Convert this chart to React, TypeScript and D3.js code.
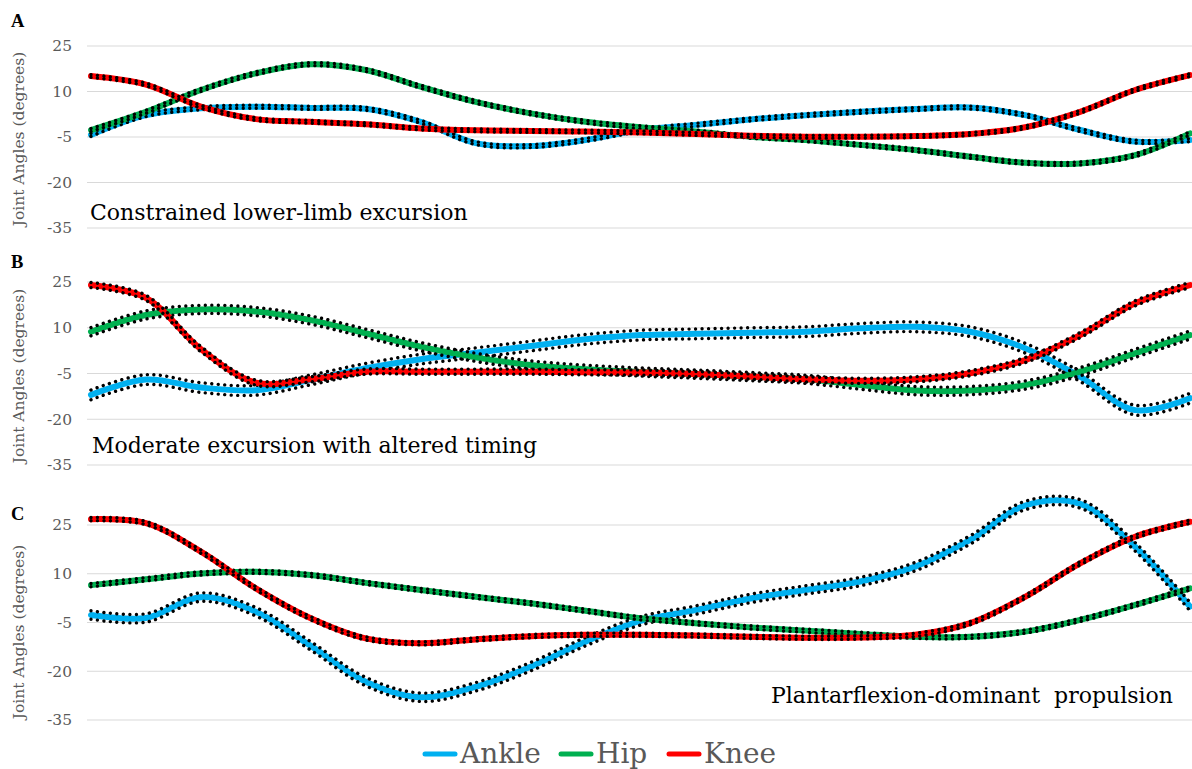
import React from "react";
import * as d3 from "d3";

// gait cycle (%), sampled every 5%
const gaitPct = [0, 5, 10, 15, 20, 25, 30, 35, 40, 45, 50, 55, 60, 65, 70, 75, 80, 85, 90, 95, 100];
const yTicks = [25, 10, -5, -20, -35];
const seriesNames = ["Ankle", "Hip", "Knee"];
const seriesColors = ["#00B0F0", "#00B050", "#FF0000"];

// Panel A - constrained
const ankleA = [-4.3, 2.2, 4.5, 5, 4.6, 4.3, 0, -7, -8, -6, -2.7, -1, 0.8, 2.2, 3.3, 4.2, 4.7, 2.2, -2.7, -6.5, -6];
const hipA = [-2.7, 3.3, 10.5, 16, 19, 17.1, 11.6, 6.6, 2.8, 0, -1.8, -3.2, -4.9, -6, -7.6, -9.3, -11.5, -13.5, -13.7, -11, -3.8];
const kneeA = [15.1, 12.3, 5, 0.9, 0, -0.8, -2.2, -2.8, -3, -3.2, -3.5, -4, -4.6, -4.9, -4.9, -4.7, -4, -1.8, 3.3, 10.5, 15.4];
const sdA = [0.5, 0.5, 0.45];

// Panel B - moderate, altered timing
const ankleB = [-12, -7, -9.6, -10.5, -7.1, -3.3, -0.3, 1.8, 4, 6.2, 7.6, 8, 8.4, 8.7, 9.8, 10.3, 8.7, 3.3, -6, -17, -13.1];
const hipB = [8.7, 14.2, 16, 15.3, 12.5, 8.2, 3.8, 0.3, -2.2, -3.6, -4.5, -5.2, -6, -6.9, -8.8, -10.6, -10.6, -8.8, -4.4, 1.6, 7.6];
const kneeB = [24, 19.8, 3, -8, -6.9, -4.4, -4.4, -4.4, -4.4, -4.6, -4.7, -5.2, -6, -6.9, -7.4, -6.9, -4.9, -0.6, 7.6, 18, 24];
const sdB = [1.6, 1.35, 0.85];

// Panel C - plantarflexion dominant
const ankleC = [-2.7, -3.6, 2.8, -1.7, -12.2, -23.2, -28, -24.8, -18.6, -10.9, -4.5, -1.2, 2.4, 5, 7.6, 12.2, 20.4, 31, 31.5, 18.3, -0.1];
const hipC = [6.5, 8.3, 10.1, 10.6, 9.6, 7.2, 5, 2.9, 0.9, -1.4, -3.7, -5.2, -6.5, -7.5, -8.5, -9.4, -9.4, -7.8, -4.2, 0.4, 5.5];
const kneeC = [26.8, 25.6, 16.8, 5.5, -3.7, -9.9, -11.4, -10.2, -9.2, -8.8, -8.8, -9, -9.4, -9.7, -9.6, -8.8, -5.2, 2.9, 13.2, 21.4, 26];
const sdC = [1.3, 0.5, 0.5];

const W = 1192, H = 769;
const FONT = "'DejaVu Serif', Georgia, serif";
const GRAY = "#595959";

const panels = [
  { letter: "A", series: [ankleA, hipA, kneeA], sd: sdA, note: "Constrained lower-limb excursion",
    top: 46, bottom: 228, letterY: 27, titleY: 139, noteX: 90, noteY: 220, anchor: "start" },
  { letter: "B", series: [ankleB, hipB, kneeB], sd: sdB, note: "Moderate excursion with altered timing",
    top: 282, bottom: 465, letterY: 268, titleY: 376, noteX: 92, noteY: 453, anchor: "start" },
  { letter: "C", series: [ankleC, hipC, kneeC], sd: sdC, note: "Plantarflexion-dominant  propulsion",
    top: 525, bottom: 720, letterY: 520, titleY: 632, noteX: 1173, noteY: 703, anchor: "end" },
];

const x = d3.scaleLinear().domain([0, 100]).range([91, 1190]);

const Panel = ({ p }: { p: typeof panels[number] }) => {
  const y = d3.scaleLinear().domain([-35, 25]).range([p.bottom, p.top]);
  const line = d3.line<number>()
    .x((_, i) => x(gaitPct[i]))
    .y(d => y(d))
    .curve(d3.curveCatmullRom.alpha(0.5));

  return (
    <g>
      {yTicks.map(t => (
        <g key={t}>
          <line x1={87} x2={W} y1={y(t)} y2={y(t)} stroke="#d9d9d9" strokeWidth={1} />
          <text x={72} y={y(t)} dy="0.35em" textAnchor="end" fontSize={15.5} fill={GRAY} fontFamily={FONT}>{t}</text>
        </g>
      ))}
      <text transform={`translate(24,${p.titleY}) rotate(-90)`} textAnchor="middle" fontSize={15.5}
        fill={GRAY} fontFamily={FONT}>Joint Angles (degrees)</text>
      <text x={11} y={p.letterY} fontSize={18.5} fontWeight="bold" fontFamily="'Liberation Serif', serif">{p.letter}</text>
      <text x={p.noteX} y={p.noteY} textAnchor={p.anchor} fontSize={22} fontFamily={FONT}
        style={{ whiteSpace: "pre" }}>{p.note}</text>
      {p.series.map((vals, si) => (
        <g key={si}>
          <path d={line(vals) || ""} fill="none" stroke={seriesColors[si]} strokeWidth={6} strokeLinecap="round" />
          {[1, -1].map(sign => (
            <path key={sign} d={line(vals.map(v => v + sign * p.sd[si])) || ""} fill="none" stroke="#000"
              strokeWidth={3.4} strokeLinecap="round" strokeDasharray="0.01 6.5" />
          ))}
        </g>
      ))}
    </g>
  );
};

export default function App() {
  const legendX = [423, 559, 667];
  return (
    <svg width={W} height={H} style={{ position: "absolute", left: 0, top: 0, background: "#fff" }}>
      {panels.map(p => <Panel key={p.letter} p={p} />)}
      {seriesNames.map((name, i) => (
        <g key={name} transform={`translate(${legendX[i]},754)`}>
          <line x1={2} x2={32} y1={0} y2={0} stroke={seriesColors[i]} strokeWidth={5} strokeLinecap="round" />
          <text x={37} y={9} fontSize={28} fill={GRAY} fontFamily={FONT}>{name}</text>
        </g>
      ))}
    </svg>
  );
}
